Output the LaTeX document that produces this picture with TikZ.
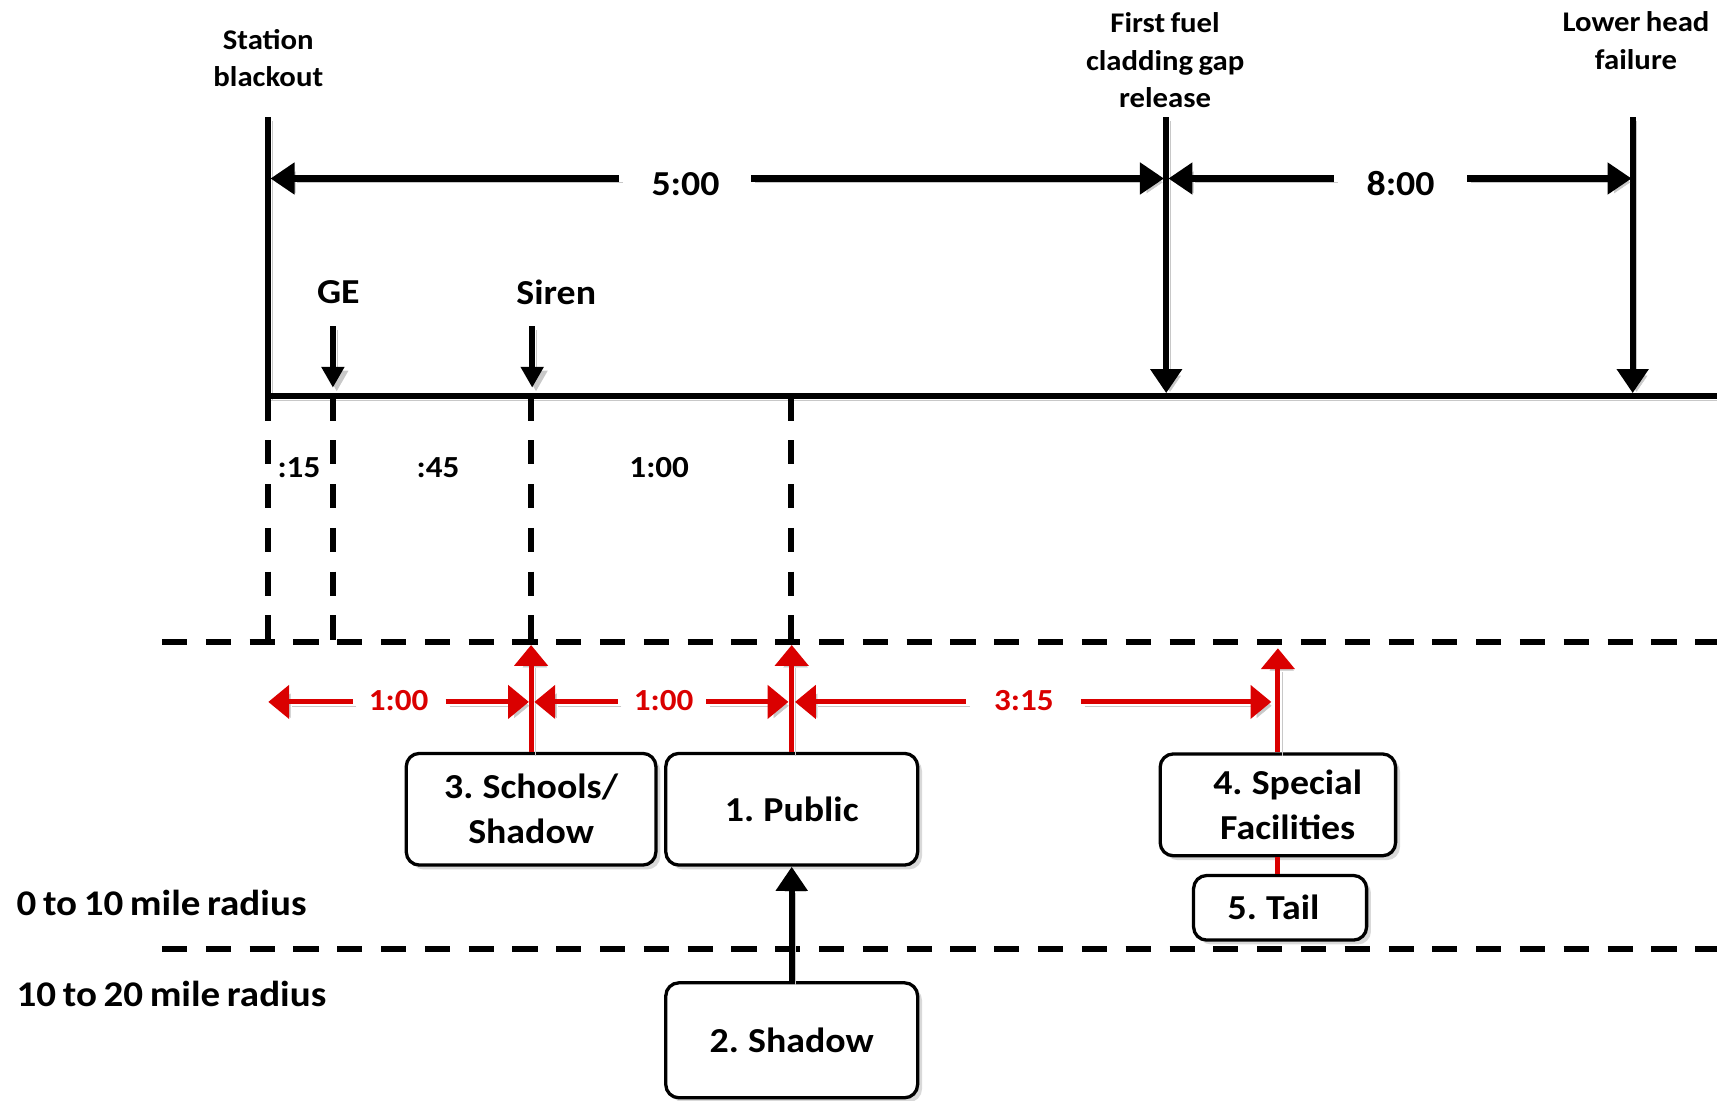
\documentclass[tikz,border=0pt]{standalone}
\usepackage{fontspec}
\setmainfont{Carlito}[FakeStretch=1.08, WordSpace=0.75]
\usetikzlibrary{arrows.meta,shadows}
\definecolor{rd}{RGB}{218,0,0}
\definecolor{shd}{RGB}{200,200,200}
\newcommand\fsz[2]{\fontsize{#1}{#2}\selectfont\bfseries}
\begin{document}
\begin{tikzpicture}[x=1pt,y=-1pt,
  lsh/.style={preaction={draw=shd, transform canvas={shift={(3.5pt,-3.5pt)}}}},
  bline/.style={line width=5.5pt, lsh},
  barrow/.style={line width=5.5pt, -{Triangle[length=22pt,width=28pt]}, lsh},
  sarrow/.style={line width=5pt, -{Triangle[length=19pt,width=20pt]}, lsh},
  rarrow/.style={draw=rd, line width=4.5pt, -{Triangle[length=19pt,width=30pt]}, lsh},
  rline/.style={draw=rd, line width=4.5pt},
  vdash/.style={line width=5.5pt, dash pattern=on 22pt off 18pt},
  hdash/.style={line width=5.5pt, dash pattern=on 23pt off 17pt},
  ev/.style={inner sep=0pt, align=center, font=\fsz{26}{34.5}},
  tm/.style={inner sep=0pt, font=\fsz{32}{36}},
  mk/.style={inner sep=0pt, font=\fsz{32}{36}},
  iv/.style={inner sep=0pt, font=\fsz{28}{30}},
  rt/.style={inner sep=0pt, text=rd, font=\fsz{28}{30}},
  zone/.style={inner sep=0pt, anchor=west, font=\fsz{33}{36}},
  box/.style={draw, line width=3pt, rounded corners=12pt, fill=white, align=center,
    font=\fsz{32}{41}, inner sep=0pt,
    drop shadow={shadow xshift=4pt, shadow yshift=-4pt, opacity=0.3}},
]
\useasboundingbox (0,0) rectangle (1568,1005);

% ---- event labels
\node[ev] (sbl) at (245,53) {Station\\blackout};
\node[ev] (ffl) at (1064,55) {First fuel\\cladding gap\\release};
\node[ev] (lhl) at (1494,37) {Lower head\\failure};
\node[mk] (ge) at (309,267) {GE};
\node[mk] (siren) at (508,267) {Siren};
\node[tm] (t500) at (626,168) {5:00};
\node[tm] (t800) at (1279,168) {8:00};

% ---- coordinates
\coordinate (sbT) at (245,107);
\coordinate (sbB) at (245,362);
\coordinate (ffT) at (1065,107);
\coordinate (ffB) at (1065,359);
\coordinate (lhT) at (1491,107);
\coordinate (lhB) at (1491,359);
\coordinate (tlL) at (242.25,362);
\coordinate (tlR) at (1568,362);
\coordinate (a5Ls) at (565,163);
\coordinate (a5Le) at (247,163);
\coordinate (a5Rs) at (686,163);
\coordinate (a5Re) at (1063,163);
\coordinate (a8Ls) at (1218,163);
\coordinate (a8Le) at (1067,163);
\coordinate (a8Rs) at (1340,163);
\coordinate (a8Re) at (1490,163);
\coordinate (geS) at (304,298);
\coordinate (geE) at (304,354);
\coordinate (siS) at (486,298);
\coordinate (siE) at (486,354);

% ---- top black lines
\draw[bline] (sbT) -- (sbB);
\draw[barrow] (ffT) -- (ffB);
\draw[barrow] (lhT) -- (lhB);
\draw[bline] (tlL) -- (tlR);
\draw[barrow] (a5Ls) -- (a5Le);
\draw[barrow] (a5Rs) -- (a5Re);
\draw[barrow] (a8Ls) -- (a8Le);
\draw[barrow] (a8Rs) -- (a8Re);
\draw[sarrow] (geS) -- (geE);
\draw[sarrow] (siS) -- (siE);

% ---- interval dashed verticals
\coordinate (d1T) at (245,362); \coordinate (d1B) at (245,586);
\coordinate (d2T) at (304,362); \coordinate (d2B) at (304,586);
\coordinate (d3T) at (485,362); \coordinate (d3B) at (485,586);
\coordinate (d4T) at (722,362); \coordinate (d4B) at (722,586);
\draw[vdash] (d1T) -- (d1B);
\draw[vdash] (d2T) -- (d2B);
\draw[vdash] (d3T) -- (d3B);
\draw[vdash] (d4T) -- (d4B);
\node[iv] (i15) at (273,427) {:15};
\node[iv] (i45) at (400,427) {:45};
\node[iv] (i100) at (602,427) {1:00};

% ---- zone dashed lines
\coordinate (h1L) at (148,586); \coordinate (h1R) at (1568,586);
\coordinate (h2L) at (148,867); \coordinate (h2R) at (1568,867);
\draw[hdash] (h1L) -- (h1R);
\draw[hdash] (h2L) -- (h2R);
\node[zone] (z1) at (15,825) {0 to 10 mile radius};
\node[zone] (z2) at (15,908) {10 to 20 mile radius};

% ---- boxes
\node[box, minimum width=228pt, minimum height=102pt] (schools) at (485,739) {3. Schools/\\Shadow};
\node[box, minimum width=230pt, minimum height=102pt] (public) at (723,739) {1. Public};
\node[box, minimum width=215pt, minimum height=93pt] (special) at (1167,735) {\hspace*{18pt}4. Special\\\hspace*{18pt}Facilities};
\node[box, minimum width=158pt, minimum height=59pt] (tail) at (1169,829) {5. Tail\hspace*{12pt}};
\node[box, minimum width=230pt, minimum height=105pt] (shadow) at (723,950) {2. Shadow};

% ---- red connectors
\coordinate (rsT) at (485,589);
\coordinate (rpT) at (723,589);
\coordinate (rfT) at (1167,592);
\draw[rarrow] (schools.north) -- (rsT);
\draw[rarrow] (public.north) -- (rpT);
\draw[rarrow] (special.north) -- (rfT);
\draw[rline] (special.south) -- (special.south |- tail.north);

\node[rt] (r1) at (364,640) {1:00};
\node[rt] (r2) at (606,640) {1:00};
\node[rt] (r3) at (935,640) {3:15};
\coordinate (r1a) at (322,641); \coordinate (r1ae) at (245,641);
\coordinate (r1b) at (407,641); \coordinate (r1be) at (483,641);
\coordinate (r2a) at (564,641); \coordinate (r2ae) at (488,641);
\coordinate (r2b) at (645,641); \coordinate (r2be) at (720,641);
\coordinate (r3a) at (882,641); \coordinate (r3ae) at (726,641);
\coordinate (r3b) at (987,641); \coordinate (r3be) at (1161,641);
\draw[rarrow] (r1a) -- (r1ae);
\draw[rarrow] (r1b) -- (r1be);
\draw[rarrow] (r2a) -- (r2ae);
\draw[rarrow] (r2b) -- (r2be);
\draw[rarrow] (r3a) -- (r3ae);
\draw[rarrow] (r3b) -- (r3be);

% ---- shadow to public
\draw[barrow] (shadow.north) -- (public.south);
\end{tikzpicture}
\end{document}
